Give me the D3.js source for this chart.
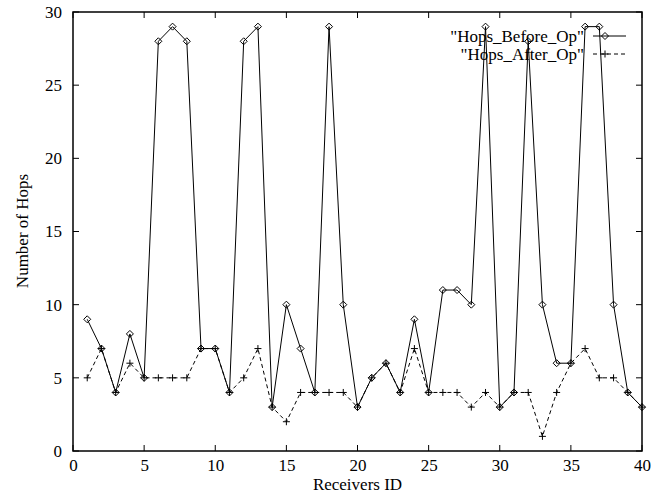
<!DOCTYPE html>
<html>
<head>
<meta charset="utf-8">
<script src="https://cdn.jsdelivr.net/npm/d3@7"></script>
<style>
  body { margin: 0; background: #fff; }
  text { font-family: "Liberation Serif", "DejaVu Serif", serif; fill: #000; }
</style>
</head>
<body>
<svg width="663" height="495"></svg>
<script>
// receiver ids 1..40
var receivers = d3.range(1, 41);
var hopsBefore = [9, 7, 4, 8, 5, 28, 29, 28, 7, 7,
                  4, 28, 29, 3, 10, 7, 4, 29, 10, 3,
                  5, 6, 4, 9, 4, 11, 11, 10, 29, 3,
                  4, 28, 10, 6, 6, 29, 29, 10, 4, 3];
var hopsAfter = [5, 7, 4, 6, 5, 5, 5, 5, 7, 7,
                 4, 5, 7, 3, 2, 4, 4, 4, 4, 3,
                 5, 6, 4, 7, 4, 4, 4, 3, 4, 3,
                 4, 4, 1, 4, 6, 7, 5, 5, 4, 3];
var xTicks = [0, 5, 10, 15, 20, 25, 30, 35, 40];
var yTicks = [0, 5, 10, 15, 20, 25, 30];
var seriesNames = ['"Hops_Before_Op"', '"Hops_After_Op"'];

var margin = {top: 12, right: 21, bottom: 44, left: 73};
var fontSize = "17px";

var svg = d3.select("svg"),
    width = +svg.attr("width"),
    height = +svg.attr("height");

var x = d3.scaleLinear().domain([0, 40]).range([margin.left, width - margin.right]);
var y = d3.scaleLinear().domain([0, 30]).range([height - margin.bottom, margin.top]);

var tickLen = 6;

// frame ticks (inward, all four sides)
var ticks = svg.append("g").attr("stroke", "#000").attr("stroke-width", 1);
xTicks.forEach(function(t) {
    ticks.append("line").attr("x1", x(t)).attr("x2", x(t)).attr("y1", y(0)).attr("y2", y(0) - tickLen);
    ticks.append("line").attr("x1", x(t)).attr("x2", x(t)).attr("y1", y(30)).attr("y2", y(30) + tickLen);
});
yTicks.forEach(function(t) {
    ticks.append("line").attr("x1", x(0)).attr("x2", x(0) + tickLen).attr("y1", y(t)).attr("y2", y(t));
    ticks.append("line").attr("x1", x(40)).attr("x2", x(40) - tickLen).attr("y1", y(t)).attr("y2", y(t));
});

// tick labels via d3 axes, lines hidden
var xAxis = svg.append("g")
    .attr("transform", "translate(0," + y(0) + ")")
    .call(d3.axisBottom(x).tickValues(xTicks).tickSize(0).tickPadding(8));
var yAxis = svg.append("g")
    .attr("transform", "translate(" + x(0) + ",0)")
    .call(d3.axisLeft(y).tickValues(yTicks).tickSize(0).tickPadding(11));
[xAxis, yAxis].forEach(function(a) {
    a.select(".domain").remove();
    a.selectAll("text").style("font-size", fontSize).attr("fill", "#000")
        .style("font-family", "'Liberation Serif', serif");
});

svg.append("rect")
    .attr("x", x(0)).attr("y", y(30))
    .attr("width", x(40) - x(0)).attr("height", y(0) - y(30))
    .attr("fill", "none").attr("stroke", "#000").attr("stroke-width", 1.5);

// axis titles
svg.append("text")
    .attr("x", (x(0) + x(40)) / 2).attr("y", 490)
    .attr("text-anchor", "middle").style("font-size", fontSize)
    .text("Receivers ID");
svg.append("text")
    .attr("transform", "translate(28,231) rotate(-90)")
    .attr("text-anchor", "middle").style("font-size", fontSize)
    .text("Number of Hops");

var line = d3.line()
    .x(function(d) { return x(d[0]); })
    .y(function(d) { return y(d[1]); });

var before = receivers.map(function(r, i) { return [r, hopsBefore[i]]; });
var after = receivers.map(function(r, i) { return [r, hopsAfter[i]]; });

function diamond(g, cx, cy) {
    var s = 3.5;
    g.append("path")
        .attr("d", "M" + cx + "," + (cy - s) + "L" + (cx + s) + "," + cy + "L" + cx + "," + (cy + s) + "L" + (cx - s) + "," + cy + "Z")
        .attr("fill", "none").attr("stroke", "#000").attr("stroke-width", 1);
}
function cross(g, cx, cy) {
    var s = 3.5;
    g.append("path")
        .attr("d", "M" + (cx - s) + "," + cy + "H" + (cx + s) + "M" + cx + "," + (cy - s) + "V" + (cy + s))
        .attr("fill", "none").attr("stroke", "#000").attr("stroke-width", 1);
}

var plot = svg.append("g");

plot.append("path").datum(before)
    .attr("d", line).attr("fill", "none").attr("stroke", "#000").attr("stroke-width", 1);
plot.append("path").datum(after)
    .attr("d", line).attr("fill", "none").attr("stroke", "#000").attr("stroke-width", 1)
    .attr("stroke-dasharray", "4,3");

before.forEach(function(d) { diamond(plot, x(d[0]), y(d[1])); });
after.forEach(function(d) { cross(plot, x(d[0]), y(d[1])); });

// legend (top right, inside frame)
var legend = svg.append("g");
var legY = [36, 54];
legend.append("text").attr("x", 584).attr("y", legY[0] + 6)
    .attr("text-anchor", "end").style("font-size", fontSize).text(seriesNames[0]);
legend.append("text").attr("x", 584).attr("y", legY[1] + 6)
    .attr("text-anchor", "end").style("font-size", fontSize).text(seriesNames[1]);
legend.append("line").attr("x1", 593).attr("x2", 626).attr("y1", legY[0]).attr("y2", legY[0])
    .attr("stroke", "#000").attr("stroke-width", 1);
diamond(legend, 605, legY[0]);
legend.append("line").attr("x1", 593).attr("x2", 626).attr("y1", legY[1]).attr("y2", legY[1])
    .attr("stroke", "#000").attr("stroke-width", 1).attr("stroke-dasharray", "4,3");
cross(legend, 605, legY[1]);
</script>
</body>
</html>
